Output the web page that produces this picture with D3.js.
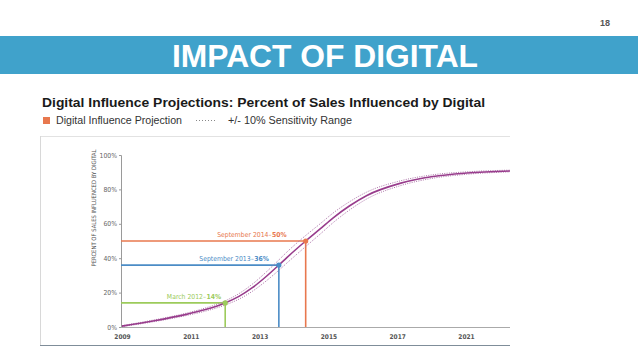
<!DOCTYPE html>
<html>
<head>
<meta charset="utf-8">
<script src="https://cdn.jsdelivr.net/npm/d3@7/dist/d3.min.js"></script>
<style>
  html, body { margin: 0; padding: 0; background: #fff; }
  svg { display: block; }
</style>
</head>
<body>
<svg id="chart" width="638" height="359"></svg>
<script>
// ---------- DATA ----------
const xTickLabels = ["2009", "2011", "2013", "2015", "2017", "2021"];
const yTickValues = [0, 20, 40, 60, 80, 100];

// position along x axis (tick index units) and percent of sales influenced
const curveX = [0, 0.45, 0.95, 1.2, 1.5, 1.7, 1.9, 2.1, 2.28, 2.4, 2.67, 2.88, 3.07, 3.31, 3.56, 4.04, 4.52, 5.01, 5.64];
const curveY = [0.5, 3.5, 7.5, 10, 14, 17.8, 23, 29.5, 36, 40.5, 50, 57, 63.5, 70.5, 76.5, 83.5, 87.5, 89.5, 90.7];
const upperY = [0.8, 4.0, 8.2, 10.9, 15.2, 19.4, 25.1, 32.1, 39.0, 43.7, 53.2, 60.0, 66.3, 72.9, 78.5, 84.9, 88.5, 90.2, 91.2];
const lowerY = [0.2, 3.0, 6.8, 9.1, 12.8, 16.2, 20.9, 26.9, 33.0, 37.3, 46.8, 54.0, 60.7, 68.1, 74.5, 82.1, 86.5, 88.8, 90.2];

const milestoneNames  = ["March 2012", "September 2013", "September 2014"];
const milestoneX      = [1.5, 2.28, 2.67];
const milestoneValues = [14, 36, 50];

// ---------- STYLE / LAYOUT ----------
const milestoneColors = ["#9ccb5b", "#4b8cc6", "#e8784e"];
const labelDx = [-4, -10, -19];
const curveColor = "#983c8c";
const bandColor = "#ad74a9";
const narrow = "'Liberation Sans Narrow', 'DejaVu Sans Condensed', 'Liberation Sans', sans-serif";

const svg = d3.select("#chart");

// header
svg.append("text").attr("x", 610).attr("y", 26).attr("text-anchor", "end")
  .attr("font-family", "'Liberation Sans', Arial, sans-serif").attr("font-size", 9)
  .attr("font-weight", "bold").attr("fill", "#555").text("18");

svg.append("rect").attr("x", 0).attr("y", 36).attr("width", 638).attr("height", 38)
  .attr("fill", "#40a2cb");

svg.append("text").attr("x", 172).attr("y", 67)
  .attr("font-family", "'Liberation Sans', Arial, sans-serif").attr("font-size", 32)
  .attr("font-weight", "bold").attr("fill", "#fff")
  .attr("textLength", 306).attr("lengthAdjust", "spacingAndGlyphs")
  .text("IMPACT OF DIGITAL");

// chart title + legend
svg.append("text").attr("x", 42).attr("y", 107)
  .attr("font-family", "'Liberation Sans', Arial, sans-serif").attr("font-size", 13)
  .attr("font-weight", "bold").attr("fill", "#1a1a1a")
  .attr("textLength", 443).attr("lengthAdjust", "spacingAndGlyphs")
  .text("Digital Influence Projections: Percent of Sales Influenced by Digital");

svg.append("rect").attr("x", 43).attr("y", 117).attr("width", 7).attr("height", 7)
  .attr("fill", "#e8784e");
svg.append("text").attr("x", 56).attr("y", 124)
  .attr("font-family", "'Liberation Sans', Arial, sans-serif").attr("font-size", 10)
  .attr("fill", "#333").attr("textLength", 126).attr("lengthAdjust", "spacingAndGlyphs")
  .text("Digital Influence Projection");
svg.append("line").attr("x1", 196).attr("x2", 217).attr("y1", 120.5).attr("y2", 120.5)
  .attr("stroke", "#888").attr("stroke-width", 1).attr("stroke-dasharray", "1,2");
svg.append("text").attr("x", 228).attr("y", 124)
  .attr("font-family", "'Liberation Sans', Arial, sans-serif").attr("font-size", 10)
  .attr("fill", "#333").attr("textLength", 124).attr("lengthAdjust", "spacingAndGlyphs")
  .text("+/- 10% Sensitivity Range");

// frame
svg.append("line").attr("x1", 40).attr("x2", 510).attr("y1", 136.5).attr("y2", 136.5)
  .attr("stroke", "#e2e2e2");
svg.append("line").attr("x1", 40.5).attr("x2", 40.5).attr("y1", 136).attr("y2", 345)
  .attr("stroke", "#d8d8d8");
svg.append("line").attr("x1", 40).attr("x2", 510).attr("y1", 345.5).attr("y2", 345.5)
  .attr("stroke", "#7f8d99").attr("stroke-width", 1.2);

// scales
const x = d3.scaleLinear().domain([0, 5.64]).range([122, 510]);
const y = d3.scaleLinear().domain([0, 100]).range([327, 155]);

// axes
const yAxis = svg.append("g").attr("transform", "translate(121,0)")
  .call(d3.axisLeft(y).tickValues(yTickValues).tickFormat(d => d + "%").tickSize(2).tickPadding(2));
yAxis.select(".domain").attr("stroke", "#9a9a9a");
yAxis.selectAll(".tick line").attr("stroke", "#9a9a9a");
yAxis.selectAll("text").attr("font-family", narrow).attr("font-size", 6.8).attr("fill", "#666");

const xAxis = svg.append("g").attr("transform", "translate(0,327)")
  .call(d3.axisBottom(x).tickValues(d3.range(xTickLabels.length)).tickFormat(i => xTickLabels[i]).tickSize(0).tickPadding(7));
xAxis.select(".domain").attr("stroke", "#aaa").attr("d", "M121,0.5H510");
xAxis.selectAll("text").attr("font-family", narrow).attr("font-size", 6.5)
  .attr("font-weight", "bold").attr("fill", "#555");

// y axis title
svg.append("text")
  .attr("transform", "translate(96,208) rotate(-90)")
  .attr("text-anchor", "middle").attr("font-family", narrow).attr("font-size", 6)
  .attr("fill", "#555").attr("textLength", 117).attr("lengthAdjust", "spacingAndGlyphs")
  .text("PERCENT OF SALES INFLUENCED BY DIGITAL");

// milestone lines + labels
milestoneValues.forEach((v, i) => {
  const c = milestoneColors[i];
  const px = x(milestoneX[i]), py = y(v);
  svg.append("line").attr("x1", 121).attr("x2", px).attr("y1", py).attr("y2", py)
    .attr("stroke", c).attr("stroke-width", 1.6);
  svg.append("line").attr("x1", px).attr("x2", px).attr("y1", py).attr("y2", y(0))
    .attr("stroke", c).attr("stroke-width", 1.6);
  const endX = px + labelDx[i];
  const pct = svg.append("text").attr("x", endX).attr("y", py - 4)
    .attr("text-anchor", "end").attr("font-family", narrow).attr("font-size", 6.8)
    .attr("font-weight", "bold").attr("fill", c).text(v + "%");
  const w = pct.node().getComputedTextLength();
  svg.append("text").attr("x", endX - w - 0.5).attr("y", py - 4)
    .attr("text-anchor", "end").attr("font-family", narrow).attr("font-size", 6.8)
    .attr("fill", c).text(milestoneNames[i] + "\u2013");
});

// curves
const line = d3.line().x(d => x(d[0])).y(d => y(d[1])).curve(d3.curveMonotoneX);
svg.append("path").datum(curveX.map((d, i) => [d, upperY[i]])).attr("d", line)
  .attr("fill", "none").attr("stroke", bandColor).attr("stroke-width", 1).attr("stroke-dasharray", "1,1.3");
svg.append("path").datum(curveX.map((d, i) => [d, lowerY[i]])).attr("d", line)
  .attr("fill", "none").attr("stroke", bandColor).attr("stroke-width", 1).attr("stroke-dasharray", "1,1.3");
svg.append("path").datum(curveX.map((d, i) => [d, curveY[i]])).attr("d", line)
  .attr("fill", "none").attr("stroke", curveColor).attr("stroke-width", 1.6);

// milestone markers
milestoneValues.forEach((v, i) => {
  svg.append("circle").attr("cx", x(milestoneX[i])).attr("cy", y(v)).attr("r", 2.6)
    .attr("fill", milestoneColors[i]);
});
</script>
</body>
</html>
